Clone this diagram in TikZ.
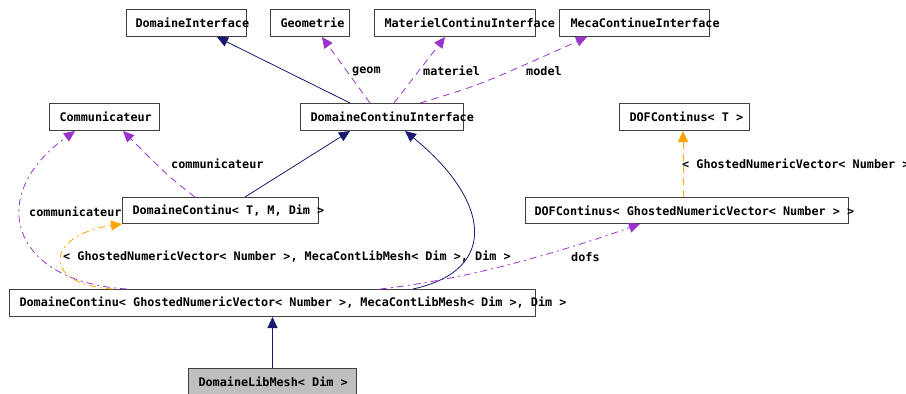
\documentclass[tikz,border=0pt]{standalone}
\usepackage{fontspec}
\newfontfamily\dfont{DejaVu Sans Mono}
\usetikzlibrary{arrows.meta}
\definecolor{navy}{HTML}{191970}
\definecolor{purp}{HTML}{9A32CD}
\definecolor{orng}{HTML}{FFA500}
\definecolor{bord}{HTML}{404040}
\definecolor{fillg}{HTML}{BFBFBF}
\newcommand\bxt[3]{\makebox[#1pt][l]{\hspace{#2pt}#3}}
\begin{document}
\begin{tikzpicture}[x=1pt,y=-1pt,
  font=\dfont\fontsize{11.8}{12}\selectfont\bfseries,
  box/.style={draw=bord, line width=1pt, inner sep=0pt, anchor=north west, minimum height=27pt},
  lbl/.style={inner sep=0pt, anchor=west},
  tip/.style={-{Triangle[length=11pt,width=10pt]}},
  inh/.style={navy, line width=0.8pt, tip},
  usedash/.style={purp, line width=0.8pt, dash pattern=on 7pt off 5pt, tip},
  usedot/.style={purp, line width=0.8pt, dash pattern=on 7pt off 4pt on 2pt off 4pt, tip},
  tpl/.style={orng, line width=0.8pt, dash pattern=on 7pt off 5pt, tip},
  tpldot/.style={orng, line width=0.8pt, dash pattern=on 7pt off 4pt on 2pt off 4pt, tip}]
\fill[white] (0,0) rectangle (906,394);
\useasboundingbox (0,0) rectangle (906,394);

% boxes
\node[box, minimum width=120pt] (di) at (126,9) {\bxt{120}{9}{DomaineInterface}};
\node[box, minimum width=79pt] (geo) at (270,9) {\bxt{79}{10}{Geometrie}};
\node[box, minimum width=161pt] (mci) at (374,9) {\bxt{161}{10}{MaterielContinuInterface}};
\node[box, minimum width=150pt] (meca) at (559,9) {\bxt{150}{11}{MecaContinueInterface}};
\node[box, minimum width=110pt] (comm) at (49,103) {\bxt{110}{10}{Communicateur}};
\node[box, minimum width=163pt] (dci) at (300,103) {\bxt{163}{10}{DomaineContinuInterface}};
\node[box, minimum width=130pt] (doft) at (619,103) {\bxt{130}{10}{DOFContinus< T >}};
\node[box, minimum width=196pt, minimum height=26pt] (dctmd) at (122,197) {\bxt{196}{10}{DomaineContinu< T, M, Dim >}};
\node[box, minimum width=323pt, minimum height=26pt] (dofg) at (525,197) {\bxt{323}{9}{DOFContinus< GhostedNumericVector< Number > >}};
\node[box, minimum width=526pt] (dcg) at (9,289) {\bxt{526}{10}{DomaineContinu< GhostedNumericVector< Number >, MecaContLibMesh< Dim >, Dim >}};
\node[box, minimum width=168pt, fill=fillg] (dlm) at (188,368) {\bxt{168}{10}{DomaineLibMesh< Dim >}};

% labels
\node[lbl] (lgeom) at (352,71) {geom};
\node[lbl] (lmat) at (423,71) {materiel};
\node[lbl] (lmodel) at (526,71) {model};
\node[lbl] (lcomm1) at (171,164) {communicateur};
\node[lbl] (lcomm2) at (29,212) {communicateur};
\node[lbl] (ltpl) at (63,257) {< GhostedNumericVector< Number >, MecaContLibMesh< Dim >, Dim >};
\node[lbl] (ldofs) at (571,257) {dofs};
\node[lbl] (ltpl2) at (682,164) {< GhostedNumericVector< Number >};

% connectors
\draw[inh] ([xshift=50pt]dci.north west) -- ([xshift=91pt]di.south west);
\draw[usedash] ([xshift=70pt]dci.north west) -- ([xshift=52pt]geo.south west);
\draw[usedash] ([xshift=94pt]dci.north west) -- ([xshift=71pt]mci.south west);
\draw[usedash] ([xshift=120pt]dci.north west) .. controls (480,85) .. ([xshift=28pt]meca.south west);
\draw[usedash] ([xshift=73pt]dctmd.north west) .. controls (168,176) .. ([xshift=74pt]comm.south west);
\draw[inh] ([xshift=123pt]dctmd.north west) -- ([xshift=50pt]dci.south west);
\draw[inh] ([xshift=404pt]dcg.north west) .. controls (500,270) and (490,200) .. ([xshift=105pt]dci.south west);
\draw[usedot] ([xshift=118pt]dcg.north west) .. controls (10,282) and (-15,195) .. ([xshift=26pt]comm.south west);
\draw[tpldot] ([xshift=104pt]dcg.north west) .. controls (40,285) and (45,235) .. (dctmd.south west);
\draw[usedot] ([xshift=371pt]dcg.north west) .. controls (480,278) and (580,245) .. ([xshift=115pt]dofg.south west);
\draw[tpl] ([xshift=158pt]dofg.north west) -- ([xshift=64pt]doft.south west);
\draw[inh] (dlm.north) -- (dcg.south);
\end{tikzpicture}
\end{document}
